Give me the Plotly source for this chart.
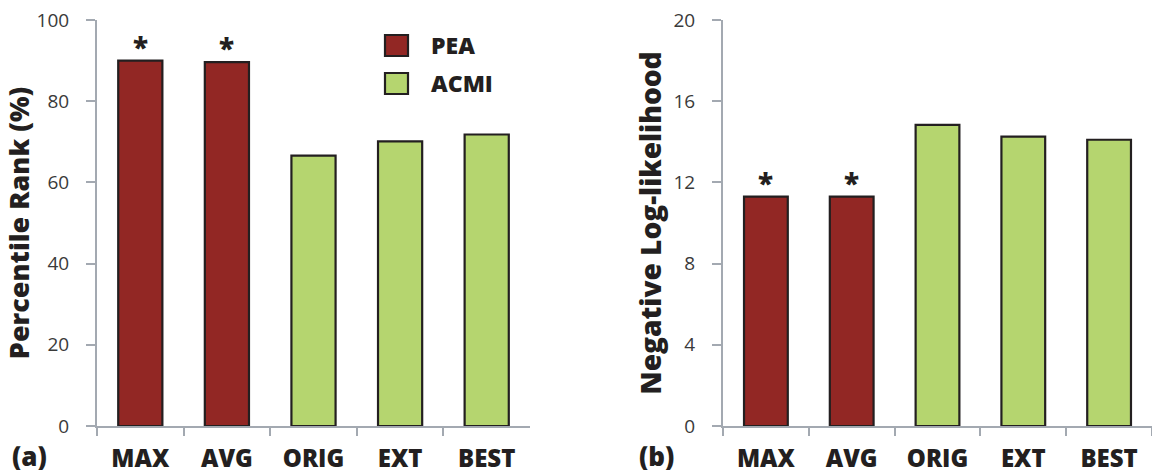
import plotly.graph_objects as go

categories = ["MAX", "AVG", "ORIG", "EXT", "BEST"]
method = ["PEA", "PEA", "ACMI", "ACMI", "ACMI"]
percentile_rank = [90.0, 89.6, 66.6, 70.1, 71.8]
neg_loglik = [11.3, 11.3, 14.83, 14.25, 14.1]
significant = ["*", "*", "", "", ""]

colors = {"PEA": "#922724", "ACMI": "#b5d56f"}
FONT = "Open Sans"
BOLD = 800
AXIS_GREY = "#a3a9b1"
TICK_COLOR = "#3a3a3a"
INK = "#231f20"

W, H = 1152, 474

def px_x(p):
    return p / W

def px_y(p):
    return 1 - p / H

fig = go.Figure()

bar_colors = [colors[m] for m in method]

panels = [(percentile_rank, "x", "y"), (neg_loglik, "x2", "y2")]
for vals, xa, ya in panels:
    fig.add_trace(go.Bar(
        x=categories, y=vals, xaxis=xa, yaxis=ya,
        marker=dict(color=bar_colors, line=dict(color=INK, width=2.2)),
        width=0.51, showlegend=False,
    ))
    for c, v, s in zip(categories, vals, significant):
        if s:
            fig.add_annotation(xref=xa, yref=ya, x=c, y=v, text=s, showarrow=False,
                               yanchor="bottom", yshift=-7,
                               font=dict(family=FONT, size=28, color=INK, weight=BOLD))

ydom = [px_y(426), px_y(20)]

common_x = dict(
    type="category", range=[-0.5, 4.5], showline=True, linecolor=AXIS_GREY, linewidth=2,
    ticks="outside", tickson="boundaries", ticklen=8, tickwidth=2, tickcolor=AXIS_GREY,
    tickvals=categories, ticktext=categories, ticklabelstandoff=10, automargin=False,
    tickfont=dict(family=FONT, size=24, color=INK, weight=BOLD), showgrid=False, zeroline=False,
)
common_y = dict(
    showline=True, linecolor=AXIS_GREY, linewidth=2, ticks="outside", ticklen=9,
    tickwidth=2, tickcolor=AXIS_GREY, showgrid=False, zeroline=False, automargin=False,
    tickfont=dict(family=FONT, size=19, color=TICK_COLOR), ticklabelstandoff=13,
)

fig.update_layout(
    width=W, height=H, margin=dict(l=0, r=0, t=0, b=0, autoexpand=False),
    plot_bgcolor="white", paper_bgcolor="white",
    xaxis=dict(domain=[px_x(97), px_x(530)], anchor="y", **common_x),
    xaxis2=dict(domain=[px_x(723), px_x(1152)], anchor="y2", **common_x),
    yaxis=dict(domain=ydom, anchor="x", range=[0, 100], tickvals=[0, 20, 40, 60, 80, 100],
               title=dict(text="Percentile Rank (%)", font=dict(family=FONT, size=27, color=INK, weight=BOLD), standoff=8),
               **common_y),
    yaxis2=dict(domain=ydom, anchor="x2", range=[0, 20], tickvals=[0, 4, 8, 12, 16, 20],
                title=dict(text="Negative Log-likelihood", font=dict(family=FONT, size=28, color=INK, weight=BOLD), standoff=4),
                **common_y),
)

# legend (manual, drawn in paper coordinates)
legend_items = [("PEA", 45), ("ACMI", 83)]
for name, cy in legend_items:
    fig.add_shape(type="rect", xref="paper", yref="paper",
                  x0=px_x(385), x1=px_x(408), y0=px_y(cy + 11), y1=px_y(cy - 10),
                  fillcolor=colors[name], line=dict(color=INK, width=2.2))
    fig.add_annotation(xref="paper", yref="paper", x=px_x(429), y=px_y(cy), xanchor="left", yanchor="middle",
                       text=name, showarrow=False,
                       font=dict(family=FONT, size=23, color=INK, weight=BOLD))

for label, xp in [("(a)", 10), ("(b)", 637)]:
    fig.add_annotation(xref="paper", yref="paper", x=px_x(xp), y=px_y(456), xanchor="left", yanchor="middle",
                       text=label, showarrow=False,
                       font=dict(family=FONT, size=26, color=INK, weight=BOLD))

fig.write_html("out.html")
